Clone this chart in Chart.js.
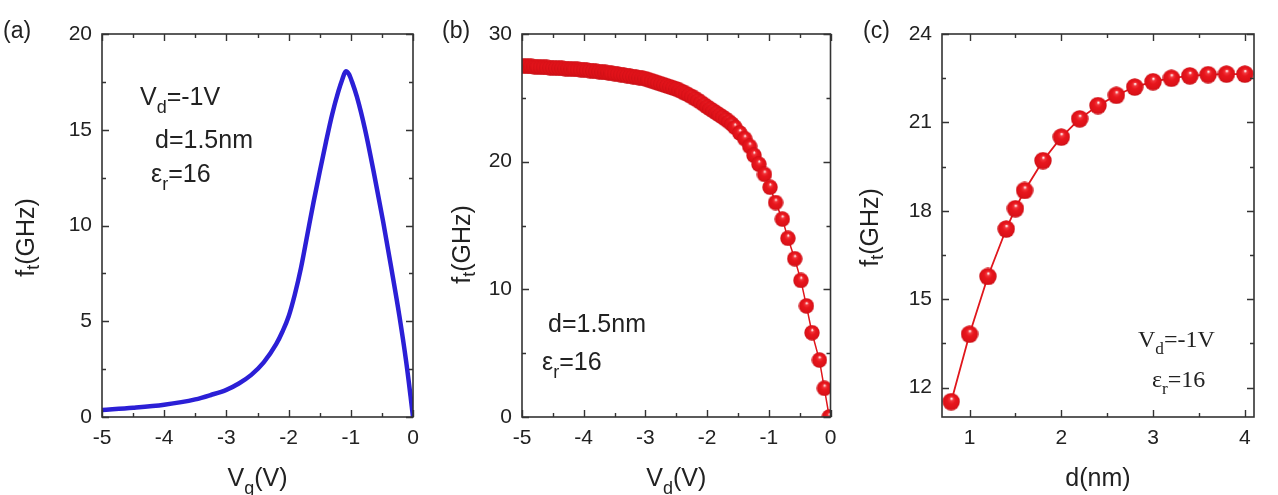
<!DOCTYPE html>
<html>
<head>
<meta charset="utf-8">
<script src="https://cdn.jsdelivr.net/npm/chart.js@4"></script>
<style>
  html, body { margin: 0; padding: 0; background: #fff; }
  #wrap { position: relative; width: 1278px; height: 495px; overflow: hidden; }
  canvas { position: absolute; top: 0; }
</style>
</head>
<body>
<div id="wrap">
  <canvas id="chartA" width="420" height="495" style="left:0px"></canvas>
  <canvas id="chartB" width="420" height="495" style="left:420px"></canvas>
  <canvas id="chartC" width="438" height="495" style="left:840px"></canvas>
</div>
<script>
// --- (a) f_t vs V_g ---
const vgValues = [-5, -4.5, -4, -3.5, -3.25, -3.0, -2.8, -2.6, -2.4, -2.2, -2.1, -2.0, -1.9, -1.8, -1.7, -1.6, -1.5, -1.4, -1.3, -1.2, -1.14, -1.08, -1.03, -0.98, -0.9, -0.77, -0.62, -0.48, -0.35, -0.22, -0.11, -0.04, 0];
const ftVg = [0.37, 0.48, 0.64, 0.92, 1.15, 1.42, 1.75, 2.2, 2.85, 3.8, 4.45, 5.25, 6.4, 7.8, 9.5, 11.2, 12.8, 14.35, 15.8, 17.0, 17.6, 18.05, 17.9, 17.5, 16.7, 15.0, 12.6, 10.2, 7.8, 5.3, 2.9, 1.1, 0];

// --- (b) f_t vs V_d ---
const vdValues = [
  -5.00, -4.95, -4.90, -4.85, -4.80, -4.75, -4.70, -4.65, -4.60, -4.55,
  -4.50, -4.45, -4.40, -4.35, -4.30, -4.25, -4.20, -4.15, -4.10, -4.05,
  -4.00, -3.95, -3.90, -3.85, -3.80, -3.75, -3.70, -3.65, -3.60, -3.55,
  -3.50, -3.45, -3.40, -3.35, -3.30, -3.25, -3.20, -3.15, -3.10, -3.05,
  -3.00, -2.95, -2.90, -2.85, -2.80, -2.75, -2.70, -2.65, -2.60, -2.55,
  -2.50, -2.45, -2.40, -2.35, -2.30, -2.25, -2.20, -2.15, -2.10, -2.05,
  -2.00, -1.95, -1.90, -1.85, -1.80, -1.75, -1.70, -1.65, -1.60, -1.55,
  -1.47, -1.39, -1.31, -1.24, -1.16, -1.07, -0.98, -0.89, -0.78, -0.69,
  -0.58, -0.48, -0.39, -0.30, -0.18, -0.10, -0.02
];
const ftVd = [
  27.50, 27.49, 27.47, 27.46, 27.44, 27.43, 27.41, 27.40, 27.38, 27.37,
  27.35, 27.34, 27.32, 27.31, 27.29, 27.28, 27.26, 27.24, 27.23, 27.21,
  27.20, 27.17, 27.14, 27.11, 27.08, 27.05, 27.02, 26.99, 26.96, 26.93,
  26.90, 26.86, 26.82, 26.78, 26.74, 26.70, 26.66, 26.62, 26.58, 26.54,
  26.50, 26.42, 26.34, 26.26, 26.18, 26.10, 26.02, 25.94, 25.86, 25.78,
  25.70, 25.59, 25.47, 25.35, 25.23, 25.10, 24.95, 24.80, 24.64, 24.47,
  24.30, 24.14, 23.98, 23.82, 23.66, 23.50, 23.33, 23.15, 22.95, 22.70,
  22.25, 21.80, 21.20, 20.50, 19.80, 19.00, 18.00, 16.80, 15.50, 14.00,
  12.40, 10.70, 8.70, 6.60, 4.46, 2.25, 0.0
];

// --- (c) f_t vs d ---
const dValues = [0.8, 1.0, 1.2, 1.4, 1.5, 1.6, 1.8, 2.0, 2.2, 2.4, 2.6, 2.8, 3.0, 3.2, 3.4, 3.6, 3.8, 4.0];
const ftD = [11.52, 13.81, 15.77, 17.38, 18.07, 18.69, 19.70, 20.50, 21.12, 21.57, 21.92, 22.20, 22.38, 22.50, 22.58, 22.62, 22.64, 22.64];

// tick labels
const xTicksV = [-5, -4, -3, -2, -1, 0];
const xMinorV = [-4.5, -3.5, -2.5, -1.5, -0.5];
const yTicksA = [0, 5, 10, 15, 20];
const yMinorA = [2.5, 7.5, 12.5, 17.5];
const yTicksB = [0, 10, 20, 30];
const yMinorB = [5, 15, 25];
const xTicksC = [1, 2, 3, 4];
const xMinorC = [1.5, 2.5, 3.5];
const yTicksC = [12, 15, 18, 21, 24];
const yMinorC = [13.5, 16.5, 19.5, 22.5];

const SANS = "'Liberation Sans', Arial, sans-serif";
const SERIF = "'Liberation Serif', 'Times New Roman', serif";
const TXT = "#222";

// shaded red ball used as point marker
function makeBall(d) {
  const c = document.createElement("canvas");
  c.width = d; c.height = d;
  const g = c.getContext("2d");
  const r = d / 2;
  const grad = g.createRadialGradient(r * 1.05, r * 0.62, 0, r, r, r);
  grad.addColorStop(0, "#ffffff");
  grad.addColorStop(0.07, "#ffe4e4");
  grad.addColorStop(0.2, "#f2363c");
  grad.addColorStop(0.45, "#e8161d");
  grad.addColorStop(0.85, "#dc1118");
  grad.addColorStop(1, "#c00e14");
  g.fillStyle = grad;
  g.beginPath();
  g.arc(r, r, r - 0.3, 0, Math.PI * 2);
  g.fill();
  return c;
}

// text with subscripts: parts = [[text, isSub], ...]
function drawRich(ctx, parts, x, y, size, family, align) {
  const subSize = size * 0.72;
  let w = 0;
  parts.forEach(p => {
    ctx.font = (p[1] ? subSize : size) + "px " + family;
    w += ctx.measureText(p[0]).width;
  });
  let cx = align === "center" ? x - w / 2 : x;
  parts.forEach(p => {
    ctx.font = (p[1] ? subSize : size) + "px " + family;
    ctx.fillText(p[0], cx, p[1] ? y + size * 0.3 : y);
    cx += ctx.measureText(p[0]).width;
  });
}

// frame, inward ticks, titles and notes
const framePlugin = {
  id: "frame",
  afterDatasetsDraw(chart, args, o) {
    const ctx = chart.ctx;
    const a = chart.chartArea;
    const xs = chart.scales.x, ys = chart.scales.y;
    ctx.save();
    ctx.strokeStyle = "#333";
    ctx.lineWidth = 1.6;
    ctx.strokeRect(a.left, a.top, a.right - a.left, a.bottom - a.top);
    ctx.lineWidth = 1.4;
    const tick = (vals, len) => {
      vals.forEach(v => {
        const px = Math.round(xs.getPixelForValue(v)) + 0.5;
        ctx.beginPath();
        ctx.moveTo(px, a.bottom); ctx.lineTo(px, a.bottom - len);
        ctx.moveTo(px, a.top); ctx.lineTo(px, a.top + len);
        ctx.stroke();
      });
    };
    const tickY = (vals, len) => {
      vals.forEach(v => {
        const py = Math.round(ys.getPixelForValue(v)) + 0.5;
        ctx.beginPath();
        ctx.moveTo(a.left, py); ctx.lineTo(a.left + len, py);
        ctx.moveTo(a.right, py); ctx.lineTo(a.right - len, py);
        ctx.stroke();
      });
    };
    tick(o.xMajor, 7); tick(o.xMinor, 4);
    tickY(o.yMajor, 7); tickY(o.yMinor, 4);

    ctx.fillStyle = TXT;
    ctx.textBaseline = "alphabetic";
    // panel label
    ctx.font = "23px " + SANS;
    ctx.fillText(o.label, o.labelPos[0], o.labelPos[1]);
    // x title
    drawRich(ctx, o.xTitle, (a.left + a.right) / 2, a.bottom + 69, 25, SANS, "center");
    // y title (rotated)
    ctx.save();
    ctx.translate(a.left - o.yTitleOff, (a.top + a.bottom) / 2 + o.yTitleShift);
    ctx.rotate(-Math.PI / 2);
    ctx.textBaseline = "middle";
    drawRich(ctx, [["f", false], ["t", true], ["(GHz)", false]], 0, 0, 25, SANS, "center");
    ctx.restore();
    // notes inside the plot
    o.notes.forEach(n => drawRich(ctx, n.parts, n.x, n.y, n.size, n.family, "left"));
    ctx.restore();
  }
};

function makeChart(id, cfg) {
  const tickFont = { family: SANS, size: 21 };
  return new Chart(document.getElementById(id), {
    type: "line",
    data: { datasets: [cfg.dataset] },
    options: {
      responsive: false,
      animation: false,
      layout: { padding: { left: 0, right: cfg.padRight, top: 34, bottom: 0 } },
      plugins: { legend: { display: false }, tooltip: { enabled: false }, frame: cfg.frame },
      scales: {
        x: {
          type: "linear", min: cfg.xMin, max: cfg.xMax,
          grid: { display: false, drawTicks: false }, border: { display: false },
          ticks: { font: tickFont, color: TXT, padding: 9, maxRotation: 0 },
          afterBuildTicks: s => { s.ticks = cfg.frame.xMajor.map(v => ({ value: v })); },
          afterFit: s => { s.height = 78; s.paddingLeft = 0; s.paddingRight = 0; }
        },
        y: {
          type: "linear", min: cfg.yMin, max: cfg.yMax,
          grid: { display: false, drawTicks: false }, border: { display: false },
          ticks: { font: tickFont, color: TXT, padding: 10 },
          afterBuildTicks: s => { s.ticks = cfg.frame.yMajor.map(v => ({ value: v })); },
          afterFit: s => { s.width = 102; s.paddingTop = 0; s.paddingBottom = 0; }
        }
      }
    },
    plugins: [framePlugin]
  });
}

window.addEventListener("DOMContentLoaded", () => {
  const ballB = makeBall(16);
  const ballC = makeBall(18);

  makeChart("chartA", {
    xMin: -5, xMax: 0, yMin: 0, yMax: 20, padRight: 7,
    dataset: {
      data: vgValues.map((v, i) => ({ x: v, y: ftVg[i] })),
      borderColor: "#2b1fd6", borderWidth: 4.5, pointRadius: 0,
      cubicInterpolationMode: "monotone", fill: false
    },
    frame: {
      xMajor: xTicksV, xMinor: xMinorV, yMajor: yTicksA, yMinor: yMinorA,
      label: "(a)", labelPos: [3, 38],
      xTitle: [["V", false], ["g", true], ["(V)", false]],
      yTitleOff: 75, yTitleShift: 12,
      notes: [
        { parts: [["V", false], ["d", true], ["=-1V", false]], x: 140, y: 105, size: 25, family: SANS },
        { parts: [["d=1.5nm", false]], x: 155, y: 148, size: 25, family: SANS },
        { parts: [["\u03b5", false], ["r", true], ["=16", false]], x: 151, y: 182, size: 25, family: SANS }
      ]
    }
  });

  makeChart("chartB", {
    xMin: -5, xMax: 0, yMin: 0, yMax: 30, padRight: 7,
    dataset: {
      data: vdValues.map((v, i) => ({ x: v, y: ftVd[i] })),
      borderColor: "#e0161c", borderWidth: 1.5,
      pointStyle: ballB, pointRadius: 8, fill: false
    },
    frame: {
      xMajor: xTicksV, xMinor: xMinorV, yMajor: yTicksB, yMinor: yMinorB,
      label: "(b)", labelPos: [22, 38],
      xTitle: [["V", false], ["d", true], ["(V)", false]],
      yTitleOff: 59, yTitleShift: 19,
      notes: [
        { parts: [["d=1.5nm", false]], x: 128, y: 332, size: 25, family: SANS },
        { parts: [["\u03b5", false], ["r", true], ["=16", false]], x: 122, y: 370, size: 25, family: SANS }
      ]
    }
  });

  makeChart("chartC", {
    xMin: 0.7, xMax: 4.1, yMin: 11, yMax: 24, padRight: 24,
    dataset: {
      data: dValues.map((v, i) => ({ x: v, y: ftD[i] })),
      borderColor: "#e0161c", borderWidth: 1.8,
      pointStyle: ballC, pointRadius: 9, fill: false
    },
    frame: {
      xMajor: xTicksC, xMinor: xMinorC, yMajor: yTicksC, yMinor: yMinorC,
      label: "(c)", labelPos: [23, 38],
      xTitle: [["d(nm)", false]],
      yTitleOff: 71, yTitleShift: 2,
      notes: [
        { parts: [["V", false], ["d", true], ["=-1V", false]], x: 298, y: 347, size: 24, family: SERIF },
        { parts: [["\u03b5", false], ["r", true], ["=16", false]], x: 312, y: 387, size: 24, family: SERIF }
      ]
    }
  });
});
</script>
</body>
</html>
